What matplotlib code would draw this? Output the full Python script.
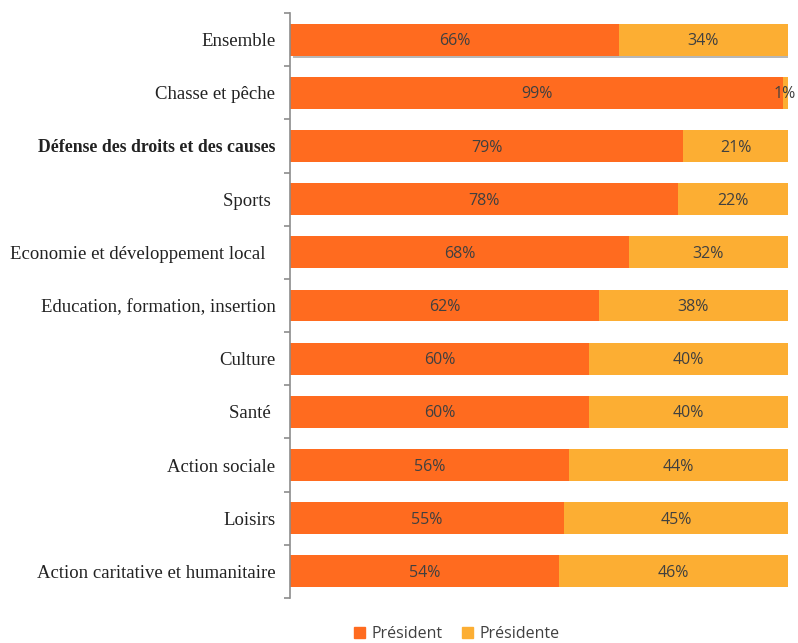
import matplotlib

matplotlib.use("Agg")
import matplotlib.pyplot as plt
import matplotlib.patheffects as pe
from matplotlib.patches import Patch
import numpy as np

# Share of associations led by a man vs. a woman, by sector
categories = [
    "Ensemble",
    "Chasse et pêche",
    "Défense des droits et des causes",
    "Sports ",
    "Economie et développement local  ",
    "Education, formation, insertion",
    "Culture",
    "Santé ",
    "Action sociale",
    "Loisirs",
    "Action caritative et humanitaire",
]
president = [66, 99, 79, 78, 68, 62, 60, 60, 56, 55, 54]
presidente = [34, 1, 21, 22, 32, 38, 40, 40, 44, 45, 46]
bold_labels = {"Défense des droits et des causes"}

C_MAN = "#FF6B1F"
C_WOMAN = "#FCAE33"
TXT = "#404040"
VAL_FONT = dict(fontsize=11.5, color=TXT, family="Open Sans")

fig = plt.figure(figsize=(7.98, 6.43), dpi=100)
ax = fig.add_axes([290 / 798, 1 - 598 / 643, 498 / 798, 585 / 643])

y = np.arange(len(categories))
h = 0.6
bars_m = ax.barh(y, president, height=h, color=C_MAN)
bars_w = ax.barh(y, presidente, left=president, height=h, color=C_WOMAN)

# drop shadow under the overall bar
for b in (bars_m[0], bars_w[0]):
    b.set_path_effects([pe.SimplePatchShadow(offset=(2, -2), shadow_rgbFace="#888888", alpha=0.6), pe.Normal()])

for i in range(len(categories)):
    ax.text(president[i] / 2, y[i] + 0.03, f"{president[i]}%", ha="center", va="center", **VAL_FONT)
    if presidente[i] >= 5:
        xw = president[i] + presidente[i] / 2
        ax.text(xw, y[i] + 0.03, f"{presidente[i]}%", ha="center", va="center", **VAL_FONT)
    else:
        # too thin to hold its label: let it spill past the end of the bar
        ax.text(101.6, y[i] + 0.03, f"{presidente[i]}%", ha="right", va="center",
                clip_on=False, **VAL_FONT)

ax.set_xlim(0, 100)
ax.set_ylim(len(categories) - 0.5, -0.5)
ax.set_xticks([])
ax.set_yticks(y)
ax.set_yticklabels(categories, family="Liberation Serif", fontsize=13.5, color="#222222")
for lab in ax.get_yticklabels():
    if lab.get_text() in bold_labels:
        lab.set_fontweight("bold")
        lab.set_fontsize(12.8)
ax.tick_params(axis="y", length=0, pad=10.5)

# small outward ticks at category boundaries on the left spine
ax.set_yticks(np.arange(-0.5, len(categories)), minor=True)
ax.tick_params(axis="y", which="minor", length=4, width=1.2, color="#8c8c8c", direction="out")

for s in ("top", "right", "bottom"):
    ax.spines[s].set_visible(False)
ax.spines["left"].set_color("#8c8c8c")
ax.spines["left"].set_linewidth(1.2)

handles = [Patch(color=C_MAN, label="Président"), Patch(color=C_WOMAN, label="Présidente")]
fig.legend(handles=handles, loc="center", bbox_to_anchor=(457 / 798, 1 - 634 / 643), ncol=2,
           frameon=False, prop={"family": "Open Sans", "size": 11.5}, handlelength=0.7,
           handleheight=0.7, handletextpad=0.4, columnspacing=1.2, labelcolor=TXT)

fig.savefig("out.png", dpi=100)
